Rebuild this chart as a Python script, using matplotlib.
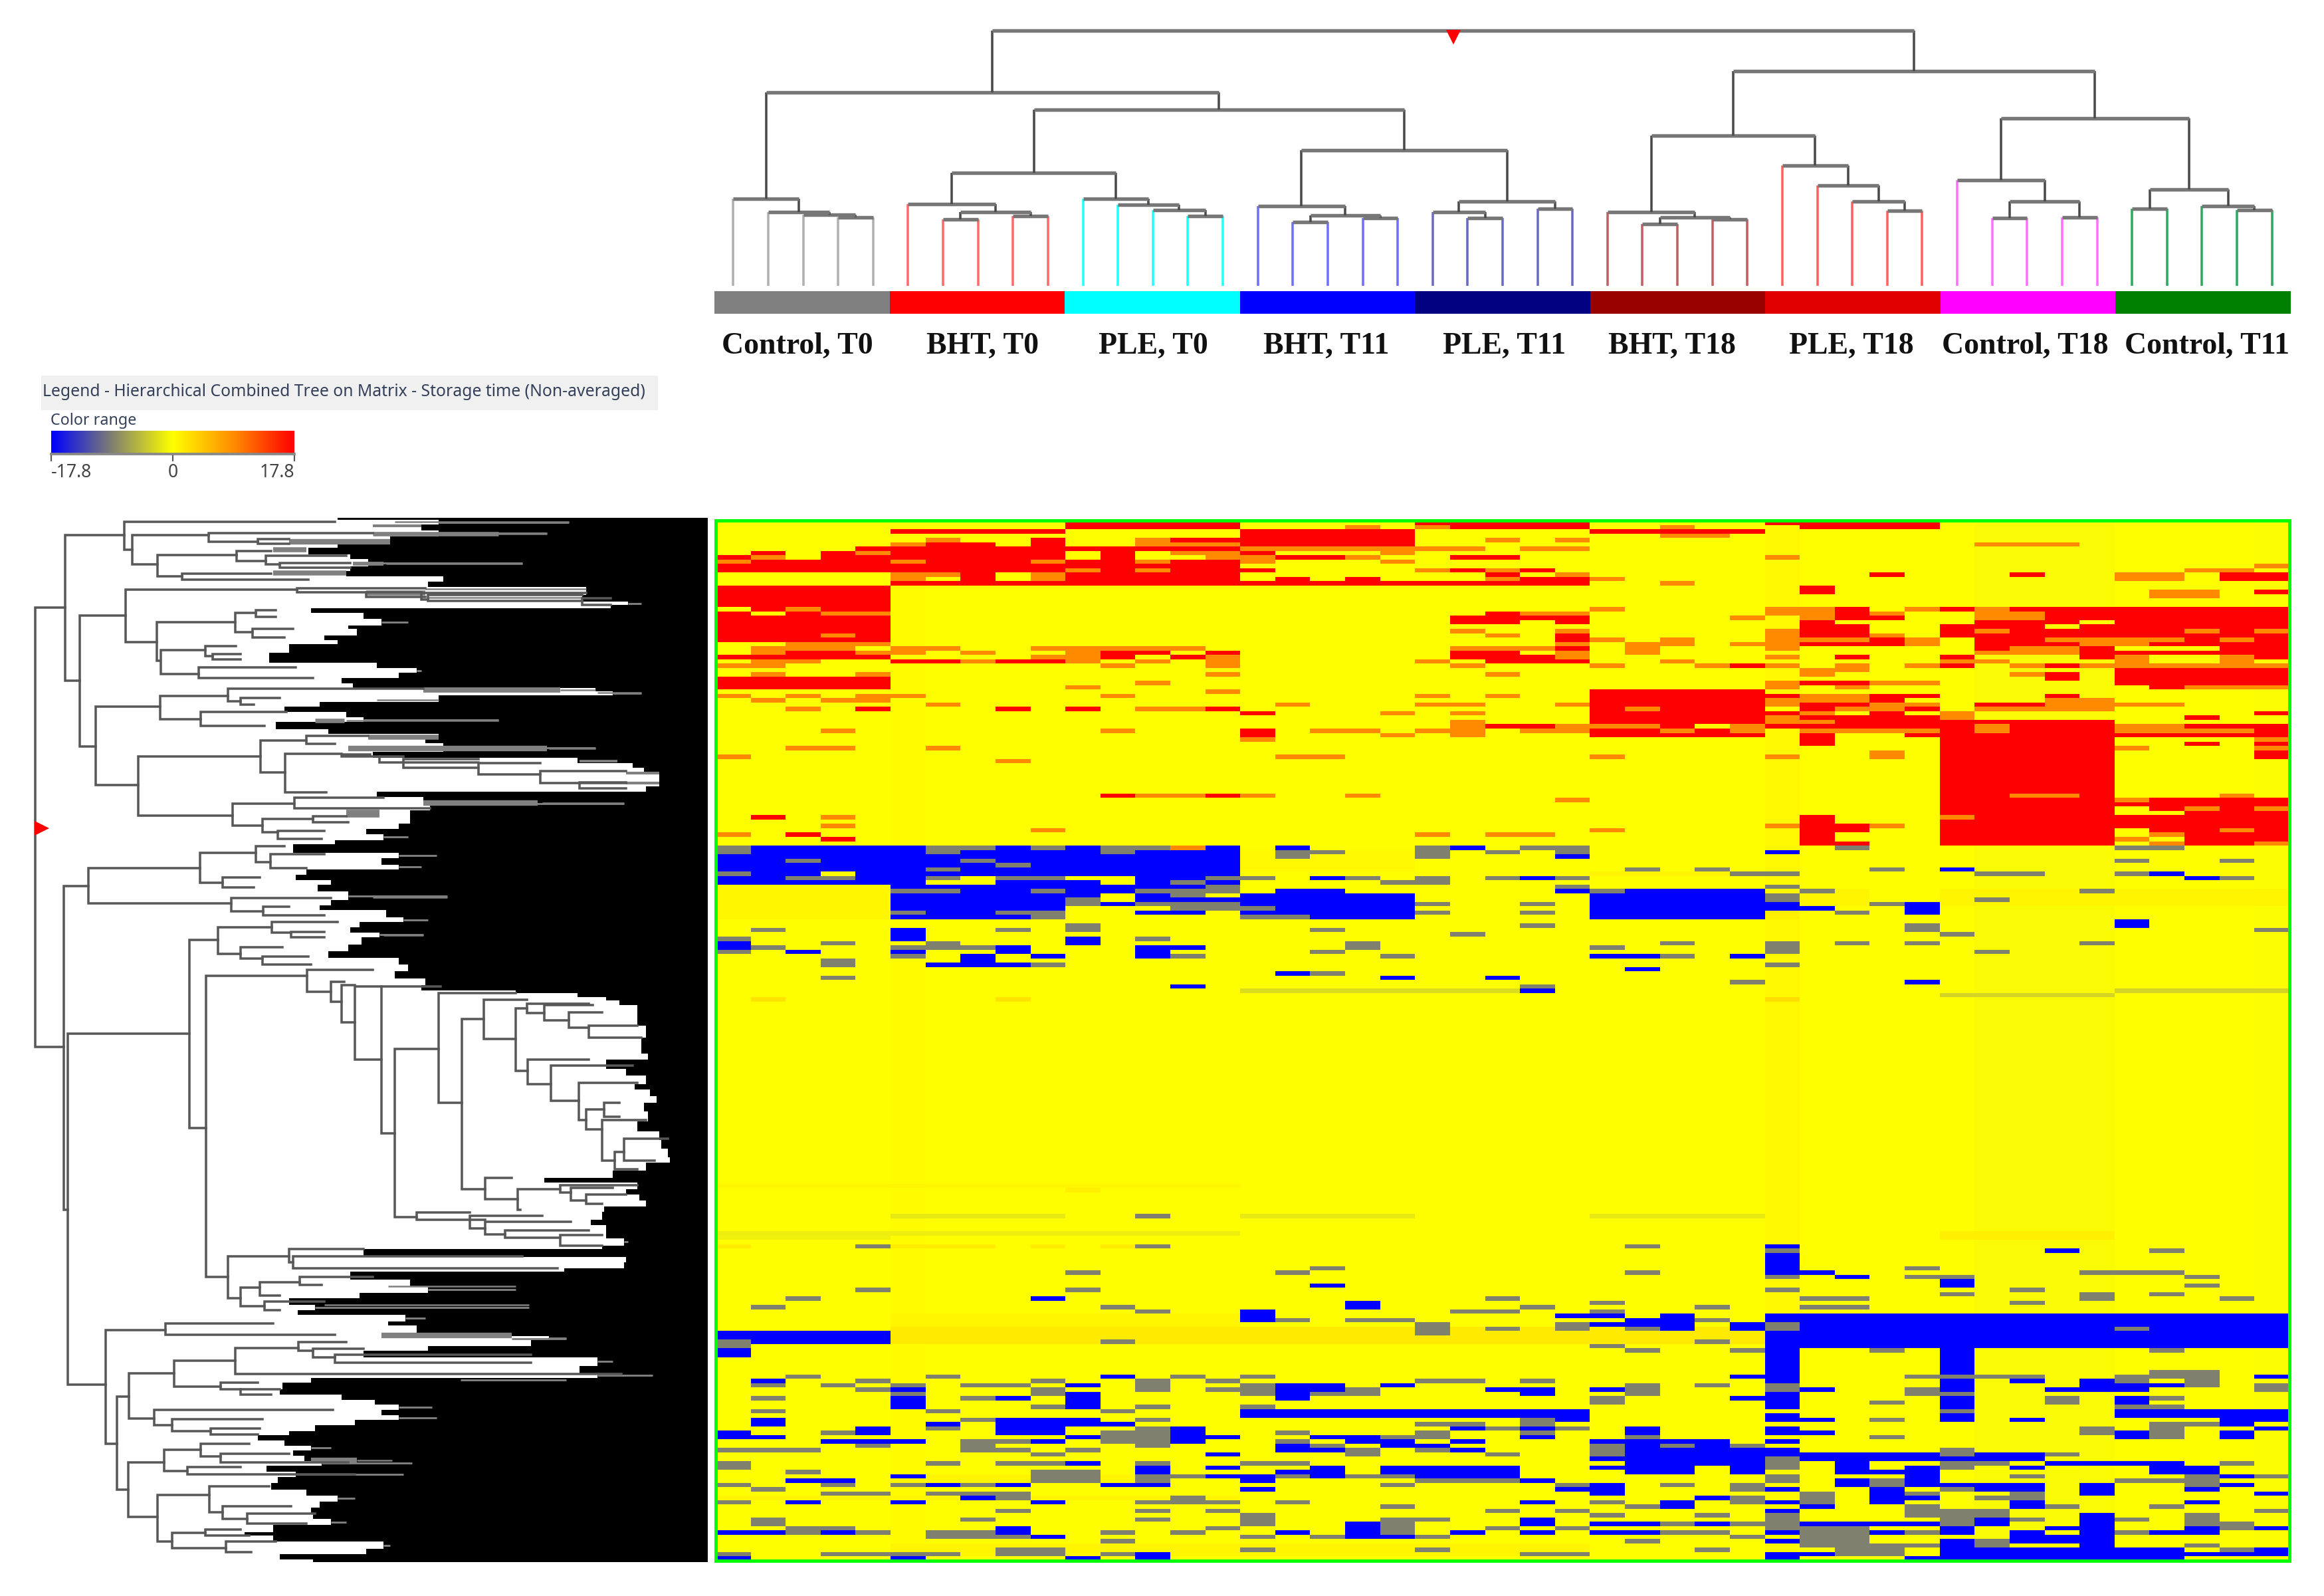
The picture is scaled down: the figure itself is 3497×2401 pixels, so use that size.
import numpy as np
import matplotlib
matplotlib.use("Agg")
import matplotlib.pyplot as plt
from matplotlib.colors import LinearSegmentedColormap

W, H = 3497, 2401
N_ROWS, N_COLS = 240, 45

GROUP_LABELS = ["Control, T0", "BHT, T0", "PLE, T0", "BHT, T11", "PLE, T11",
                "BHT, T18", "PLE, T18", "Control, T18", "Control, T11"]
GROUP_COLORS = ["#808080", "#ff0000", "#00ffff", "#0000ff", "#000080",
                "#990000", "#e00000", "#ff00ff", "#008000"]
LEAF_COLORS = ["#b0b0b0", "#ff6a6a", "#22ffff", "#7070ff", "#6a6ac0",
               "#c06060", "#ff6060", "#ff70ff", "#30a860"]
LABEL_CENTERS = [1200, 1479, 1735, 1996, 2264, 2516, 2786, 3047, 3321]

# column tree, leaves are 0-44, merges are numbered from 45 on
MERGE_LEFT = [3, 2, 1, 0, 6, 8, 49, 5, 13, 12, 11, 10, 16, 18, 57, 15, 21, 20, 23, 62,
              26, 28, 65, 25, 33, 32, 31, 30, 36, 38, 73, 35, 40, 43, 42, 77,
              52, 60, 81, 48, 68, 76, 85, 84]
MERGE_RIGHT = [4, 45, 46, 47, 7, 9, 50, 51, 14, 53, 54, 55, 17, 19, 58, 59, 22, 61, 24, 63,
               27, 29, 66, 67, 34, 69, 70, 71, 37, 39, 74, 75, 41, 44, 78, 79,
               56, 64, 82, 83, 72, 80, 86, 87]
MERGE_HEIGHT = [290, 300, 312, 367, 280, 295, 312, 345, 295, 320, 343, 367, 270, 287, 297, 337,
                287, 312, 325, 357, 260, 280, 290, 312, 317, 357, 422, 507, 287, 290, 357, 445,
                325, 320, 335, 407, 477, 572, 743, 815, 633, 705, 905, 1075]

# row tree brackets: depth of the node, rows of its two children, depth where each child stops
NODE_DEPTH = [35, 103, 237, 255, 428, 540, 312, 492, 558, 590, 368, 135, 240, 628, 785, 910, 925, 1275,
              310, 488, 535, 528, 320, 420, 437, 405, 172, 318, 472, 500, 410, 268, 546, 650, 602,
              730, 815, 870, 1040, 1180, 1270, 482, 622, 550, 665, 585,
              100, 108, 155, 408, 535, 568, 460, 480, 552, 385, 450, 572, 615, 500, 550,
              422, 652, 705, 730, 760, 820, 850, 950, 1002, 1052, 1125, 1150, 1190, 1245, 1290,
              1152, 1205, 1268, 1285, 1325, 1320, 1350, 1370, 1055, 1130, 1225, 1250, 1285,
              900, 1020, 1055, 1100, 1225, 472, 610, 620, 500, 545, 635, 555,
              195, 330, 220, 248, 350, 488, 632, 665, 715, 455, 500, 305, 345, 432,
              245, 327, 410, 455, 380, 312, 430, 460, 515, 345, 420, 468]
NODE_TOP = [283, 68, 30, 68, 62, 80, 128, 115, 130, 150, 183, 305, 230, 225, 238, 240, 245, 255,
            325, 298, 290, 345, 408, 395, 420, 458, 575, 542, 522, 548, 590, 722, 675, 660, 713,
            715, 722, 730, 740, 765, 797, 860, 843, 905, 898, 940,
            1103, 1538, 1050, 1005, 985, 1010, 1078, 1138, 1165, 1263, 1225, 1210, 1238, 1283, 1312,
            1368, 1350, 1385, 1395, 1400, 1400, 1583, 1420, 1495, 1438, 1465, 1450, 1455, 1475, 1515,
            1616, 1633, 1683, 1763, 1743, 1793, 1888, 1848, 1963, 1998, 1986, 1993, 2013,
            2066, 2076, 2093, 2118, 2133, 2196, 2173, 2196, 2288, 2271, 2256, 2328,
            2413, 2393, 2608, 2540, 2503, 2466, 2448, 2468, 2486, 2568, 2588, 2648, 2676, 2703,
            2803, 2766, 2748, 2778, 2816, 2898, 2873, 2933, 2953, 3010, 3000, 3036]
NODE_BOTTOM = [1578, 498, 112, 155, 88, 95, 190, 145, 155, 165, 200, 692, 385, 238, 250, 258, 262, 275,
               440, 355, 310, 370, 478, 425, 435, 490, 805, 612, 558, 568, 632, 895, 768, 685, 828,
               722, 738, 755, 775, 800, 815, 925, 875, 945, 915, 965,
               2058, 2573, 1155, 1093, 1033, 1050, 1108, 1178, 1190, 1816, 1303, 1240, 1255, 1318, 1335,
               2256, 1415, 1445, 1505, 1615, 1833, 2080, 1743, 1998, 1555, 1648, 1478, 1500, 1520, 1550,
               1688, 1736, 1793, 1820, 1783, 1913, 1938, 1913, 2026, 2058, 2008, 2030, 2040,
               2088, 2113, 2130, 2140, 2163, 2318, 2213, 2230, 2343, 2310, 2280, 2353,
               2748, 2426, 2883, 2673, 2580, 2543, 2473, 2493, 2508, 2588, 2603, 2693, 2710, 2720,
               2963, 2828, 2786, 2803, 2838, 3036, 2950, 2970, 2983, 3056, 3018, 3068]
TOP_END = [103, 237, 715, 428, 800, 610, 492, 570, 740, 750, 570, 240, 628, 920, 910, 1285, 1275, 1340,
           488, 535, 580, 620, 420, 490, 500, 625, 318, 472, 915, 590, 605, 546, 650, 790, 730,
           795, 870, 1040, 1180, 1375, 1375, 622, 825, 665, 740, 690,
           155, 385, 408, 535, 600, 690, 545, 705, 610, 450, 572, 720, 690, 595, 655,
           652, 800, 735, 760, 820, 955, 950, 1125, 1052, 1150, 1150, 1290, 1300, 1320, 1400,
           1290, 1390, 1400, 1325, 1360, 1420, 1370, 1470, 1115, 1225, 1400, 1345, 1375,
           1020, 1185, 1250, 1290, 1320, 610, 780, 1140, 545, 635, 800, 690,
           330, 575, 248, 350, 488, 632, 740, 780, 1160, 540, 590, 710, 550, 545,
           327, 410, 520, 610, 500, 430, 565, 615, 670, 420, 500, 580]
BOTTOM_END = [100, 135, 255, 312, 540, 610, 368, 558, 590, 750, 655, 172, 310, 785, 920, 925, 1275, 1340,
              318, 528, 580, 600, 405, 437, 500, 665, 268, 410, 500, 530, 555, 482, 602, 715, 695,
              815, 1040, 1040, 1180, 1375, 1375, 550, 930, 585, 745, 685,
              108, 195, 480, 460, 568, 650, 530, 552, 690, 422, 500, 615, 690, 550, 660,
              472, 705, 730, 760, 820, 850, 900, 1002, 1055, 1125, 1152, 1190, 1245, 1290, 1410,
              1205, 1268, 1285, 1320, 1360, 1350, 1400, 1440, 1130, 1135, 1250, 1285, 1320,
              1055, 1055, 1100, 1225, 1320, 500, 620, 1220, 555, 590, 685, 590,
              220, 715, 245, 305, 455, 1365, 665, 715, 1160, 500, 570, 345, 432, 540,
              312, 380, 455, 745, 760, 345, 460, 515, 650, 468, 520, 525]

# where the black block starts, row by row of the row tree
TIP_Y = [18, 24, 38, 55, 72, 90, 105, 125, 140, 160, 175, 190, 205, 222, 245, 265, 275, 285, 298, 315,
         335, 345, 365, 378, 390, 415, 445, 460, 475, 490, 505, 520, 530, 540, 560, 575, 590, 605, 620, 640,
         655, 670, 682, 708, 725, 740, 755, 770, 810, 825, 840, 855, 865, 880, 920, 935, 950, 968, 980, 1005,
         1022, 1040, 1055, 1070, 1085, 1100, 1120, 1145, 1160, 1175, 1195, 1210, 1225, 1240, 1255, 1275, 1295, 1315, 1335, 1355,
         1375, 1395, 1412, 1420, 1430, 1440, 1455, 1475, 1515, 1550, 1598, 1616, 1643, 1663, 1688, 1703, 1723, 1743, 1768, 1798,
         1826, 1853, 1878, 1903, 1918, 1943, 1963, 1978, 1998, 2013, 2030, 2048, 2063, 2088, 2103, 2123, 2143, 2163, 2173, 2198,
         2213, 2230, 2240, 2263, 2284, 2303, 2318, 2338, 2353, 2368, 2388, 2400, 2418, 2430, 2443, 2460, 2473, 2493, 2518, 2540,
         2553, 2568, 2588, 2603, 2618, 2633, 2648, 2663, 2678, 2693, 2710, 2723, 2738, 2753, 2768, 2783, 2798, 2813, 2830, 2846,
         2863, 2883, 2900, 2918, 2936, 2953, 2970, 2988, 3008, 3018, 3036, 3058, 3073, 3088, 3096]
TIP_X = [720, 1245, 910, 1195, 840, 720, 655, 750, 1140, 750, 740, 960, 925, 1285, 1275, 1410, 1340, 660, 780, 880,
         745, 765, 690, 720, 610, 565, 810, 910, 860, 730, 755, 1305, 1410, 950, 680, 600, 740, 1085, 580, 700,
         950, 920, 1305, 800, 1265, 1390, 1415, 1450, 1420, 810, 915, 1370, 930, 885, 860, 785, 880, 715, 620, 945,
         820, 910, 650, 625, 705, 675, 970, 705, 680, 830, 925, 770, 750, 915, 775, 745, 700, 860, 880, 850,
         920, 910, 1125, 1265, 1330, 1360, 1400, 1400, 1420, 1410, 1425, 1330, 1375, 1420, 1395, 1430, 1445, 1415, 1425, 1400,
         1450, 1455, 1470, 1475, 1420, 1345, 1190, 1400, 1375, 1405, 1420, 1325, 1320, 1295, 1330, 1330, 1380, 1320, 780, 1375,
         1370, 1235, 750, 885, 1125, 770, 610, 1155, 630, 920, 835, 900, 900, 1240, 1160, 925, 780, 1345, 1270, 1435,
         660, 595, 590, 730, 805, 935, 820, 945, 760, 670, 610, 540, 600, 705, 620, 645, 890, 560, 870, 585,
         570, 650, 760, 680, 660, 665, 740, 575, 510, 575, 840, 785, 590, 665, 665]
# grey ends of the long leaves
STRIP_Y = [30, 42, 65, 65, 88, 112, 152, 152, 180, 228, 253, 240, 525, 525, 533, 555, 615, 615, 665, 698, 698,
           735, 770, 800, 858, 858, 890, 1137, 1248, 2283, 2338, 2428, 2438, 2560, 2796, 2796]
STRIP_X0 = [850, 800, 800, 1085, 610, 575, 830, 755, 575, 920, 925, 785, 915, 1225, 1310, 810, 740, 670, 790, 745, 1200,
            1270, 1375, 1375, 915, 1185, 740, 800, 825, 835, 690, 820, 1115, 1000, 765, 660]
STRIP_X1 = [1245, 910, 1085, 1195, 840, 650, 1140, 825, 740, 1285, 1275, 920, 1225, 1305, 1410, 950, 1085, 735, 950, 1195, 1305,
            1355, 1450, 1450, 1175, 1370, 815, 970, 915, 1125, 1155, 1115, 1240, 1240, 845, 765]
STRIP_LW = [0.6, 1.0, 1.6, 0.6, 2.0, 1.8, 0.6, 1.4, 1.8, 0.6, 0.6, 1.8, 1.9, 0.6, 0.6, 0.6, 0.6, 1.6, 1.8, 2.0, 0.6,
            0.9, 1.0, 1.0, 2.0, 0.6, 2.8, 0.6, 0.6, 0.6, 0.6, 2.0, 0.7, 0.7, 0.6, 2.0]

# matrix cells, each entry is (first row, last row, first col, last col)
RED_CELLS = [(8, 8, 0, 0), (10, 11, 0, 0), (7, 7, 1, 1), (9, 11, 1, 1), (9, 11, 2, 2), (7, 11, 3, 3), (6, 6, 4, 4), (8, 11, 4, 4),
             (15, 27, 0, 4), (31, 31, 0, 1), (30, 31, 2, 3), (31, 31, 4, 4), (36, 38, 0, 4),
             (43, 43, 4, 4), (43, 43, 8, 8), (43, 43, 10, 10), (43, 43, 14, 14), (44, 44, 15, 15), (68, 68, 1, 1),
             (72, 72, 2, 2), (73, 73, 3, 3), (75, 75, 3, 3), (63, 63, 11, 11), (63, 63, 14, 14), (48, 49, 15, 15), (47, 47, 22, 23),
             (2, 2, 5, 9), (6, 8, 5, 5), (10, 11, 5, 5), (14, 14, 5, 9), (5, 11, 6, 6), (5, 14, 7, 7), (6, 11, 8, 8), (4, 8, 9, 9), (10, 11, 9, 9),
             (32, 32, 5, 6), (32, 32, 8, 9), (30, 31, 11, 11), (30, 30, 12, 12), (31, 31, 13, 13), (30, 30, 14, 14),
             (0, 1, 10, 14), (6, 6, 10, 10), (9, 14, 10, 10), (6, 14, 11, 11), (6, 6, 12, 12), (10, 10, 12, 12), (12, 14, 12, 12),
             (4, 4, 13, 14), (6, 6, 13, 14), (9, 14, 13, 14),
             (2, 5, 15, 19), (7, 7, 15, 15), (8, 8, 16, 18), (11, 11, 15, 15), (14, 14, 15, 15), (13, 14, 16, 16), (14, 14, 17, 17),
             (13, 14, 18, 18), (14, 14, 19, 19),
             (0, 1, 20, 24), (8, 8, 21, 22), (11, 11, 21, 21), (11, 11, 23, 23), (12, 12, 22, 22), (14, 14, 20, 24), (13, 13, 23, 24),
             (22, 23, 21, 21), (21, 23, 22, 22), (22, 23, 24, 24), (22, 22, 23, 23), (26, 27, 24, 24), (29, 29, 24, 24),
             (30, 31, 21, 22), (31, 32, 22, 23), (32, 32, 24, 24),
             (2, 2, 25, 29), (39, 46, 25, 29), (47, 47, 27, 27), (49, 49, 25, 29), (48, 48, 25, 26), (48, 48, 28, 28), (33, 33, 29, 29),
             (0, 1, 31, 34), (0, 0, 30, 30), (15, 16, 31, 31), (12, 12, 33, 33),
             (40, 40, 30, 30), (44, 44, 30, 30), (47, 47, 30, 30), (23, 26, 31, 31), (28, 28, 31, 31), (37, 37, 31, 31),
             (42, 43, 31, 31), (45, 51, 31, 31), (20, 22, 32, 32), (24, 26, 32, 32), (28, 28, 32, 32), (31, 31, 32, 32), (37, 37, 32, 32),
             (42, 42, 32, 32), (45, 47, 32, 32), (22, 22, 33, 33), (27, 28, 33, 33), (40, 41, 33, 33), (44, 48, 33, 33),
             (40, 40, 34, 34), (43, 43, 34, 34), (45, 47, 34, 34), (49, 49, 34, 34),
             (68, 74, 31, 31), (70, 71, 32, 32), (74, 74, 32, 32),
             (46, 74, 35, 39), (20, 20, 35, 35), (24, 26, 35, 35), (31, 31, 35, 35), (33, 33, 35, 35),
             (23, 24, 36, 36), (26, 29, 36, 36), (42, 42, 36, 36), (20, 20, 37, 37), (23, 28, 37, 37), (42, 42, 37, 37),
             (20, 23, 38, 38), (25, 28, 38, 38), (33, 33, 38, 38), (35, 36, 38, 38), (40, 40, 38, 38),
             (20, 24, 39, 39), (25, 31, 39, 39),
             (20, 31, 40, 44), (34, 37, 40, 44), (38, 38, 41, 41), (47, 49, 40, 44), (45, 45, 42, 42), (44, 44, 44, 44),
             (51, 51, 42, 42), (50, 54, 44, 44),
             (65, 65, 40, 40), (68, 70, 40, 40), (64, 66, 41, 41), (68, 71, 41, 41), (64, 65, 42, 42), (67, 74, 42, 42),
             (64, 74, 43, 43), (64, 65, 44, 44), (67, 73, 44, 44), (12, 13, 43, 44), (16, 16, 44, 44), (12, 12, 37, 37)]

BLUE_CELLS = [(75, 83, 0, 14), (84, 91, 5, 9), (84, 86, 10, 10), (84, 85, 11, 11), (88, 88, 11, 11), (84, 84, 12, 13), (86, 87, 12, 12),
              (90, 90, 12, 13), (87, 87, 13, 14), (86, 91, 15, 19), (85, 91, 16, 17), (85, 91, 25, 29),
              (84, 84, 30, 30), (88, 89, 30, 30), (89, 89, 31, 31), (88, 90, 34, 34), (75, 75, 21, 21), (75, 75, 16, 16), (82, 82, 17, 17),
              (82, 82, 23, 23), (85, 85, 24, 24), (77, 77, 24, 24), (76, 76, 30, 30), (80, 80, 35, 35), (81, 81, 41, 41), (82, 82, 42, 42),
              (94, 96, 5, 5), (97, 97, 0, 0), (96, 97, 10, 10), (98, 99, 8, 8), (98, 99, 12, 12), (98, 98, 13, 13), (92, 93, 40, 40),
              (98, 98, 0, 0), (99, 99, 2, 2), (99, 100, 5, 5), (100, 100, 7, 7), (100, 100, 9, 9), (100, 100, 12, 12), (101, 102, 7, 7),
              (102, 102, 3, 3), (102, 102, 6, 6), (102, 102, 8, 8), (104, 104, 16, 16), (105, 105, 19, 19), (105, 105, 22, 22),
              (107, 107, 13, 13), (108, 108, 23, 23), (100, 100, 25, 26), (100, 100, 29, 29), (103, 103, 26, 26), (106, 106, 34, 34),
              (167, 167, 30, 30), (169, 173, 30, 30), (173, 173, 31, 31), (174, 174, 32, 32), (168, 168, 38, 38), (175, 176, 35, 35),
              (176, 176, 17, 17), (179, 179, 9, 9), (180, 181, 18, 18), (182, 184, 15, 15), (187, 189, 0, 4), (191, 192, 0, 0),
              (197, 197, 11, 11), (198, 198, 1, 1), (200, 200, 5, 5), (202, 202, 5, 5), (199, 199, 10, 10), (201, 201, 10, 10), (202, 204, 10, 10),
              (199, 200, 16, 17), (199, 199, 19, 19), (200, 200, 22, 23), (201, 201, 23, 23), (202, 202, 8, 8), (201, 202, 16, 16),
              (203, 204, 5, 5), (205, 206, 15, 24), (207, 207, 24, 24), (207, 208, 1, 1), (208, 208, 6, 6), (207, 210, 8, 9), (207, 208, 10, 10),
              (208, 208, 11, 11), (209, 210, 4, 4), (209, 210, 13, 13), (209, 209, 21, 21), (209, 211, 23, 23), (210, 211, 0, 0), (211, 211, 1, 1),
              (212, 212, 3, 3), (212, 212, 4, 4), (212, 212, 5, 5), (212, 212, 9, 9), (211, 211, 10, 10), (211, 212, 13, 13), (211, 211, 14, 14),
              (211, 211, 17, 18), (212, 212, 21, 21), (212, 212, 18, 18), (212, 213, 19, 19), (213, 213, 20, 20), (213, 213, 16, 16),
              (215, 215, 14, 14), (214, 214, 16, 17), (214, 214, 21, 21), (217, 217, 10, 10), (218, 219, 12, 12), (218, 218, 14, 14),
              (218, 219, 17, 17), (218, 220, 19, 21), (218, 221, 22, 22), (219, 219, 16, 16), (221, 221, 2, 3), (220, 220, 5, 5),
              (220, 220, 14, 14), (220, 221, 15, 15), (220, 220, 17, 17), (222, 222, 8, 8), (222, 222, 11, 12), (222, 222, 6, 6), (223, 223, 15, 15),
              (225, 225, 7, 7), (226, 226, 2, 2), (226, 226, 5, 5), (226, 226, 9, 9), (226, 226, 23, 23), (233, 233, 0, 3), (233, 233, 8, 8),
              (232, 232, 8, 8), (234, 234, 9, 9), (231, 234, 18, 18), (233, 234, 19, 19), (233, 233, 16, 16), (233, 233, 21, 21), (233, 233, 23, 23),
              (238, 238, 12, 12), (239, 239, 12, 12), (230, 230, 23, 23), (183, 186, 27, 27), (183, 183, 24, 25), (185, 185, 25, 25),
              (184, 185, 26, 26), (184, 184, 28, 28), (185, 186, 29, 29), (183, 199, 30, 30), (200, 204, 30, 30), (183, 190, 31, 44), (190, 190, 40, 40),
              (190, 196, 35, 35), (198, 200, 35, 35), (202, 204, 35, 35), (206, 207, 35, 35), (190, 190, 37, 37), (198, 198, 37, 37),
              (197, 197, 44, 44), (198, 200, 40, 40), (199, 199, 41, 41), (198, 200, 39, 39), (200, 200, 38, 38), (197, 197, 29, 29),
              (200, 200, 25, 25), (200, 200, 31, 31), (202, 202, 29, 29), (202, 203, 40, 40), (205, 206, 40, 44), (207, 208, 43, 43),
              (207, 207, 44, 44), (207, 207, 37, 37), (206, 207, 30, 30), (207, 207, 31, 31), (209, 210, 26, 26), (209, 210, 30, 30),
              (210, 210, 31, 31), (210, 211, 40, 40), (210, 211, 43, 43), (209, 209, 44, 44), (212, 212, 25, 25), (212, 219, 26, 26),
              (212, 212, 27, 27), (214, 219, 27, 27), (212, 217, 28, 28), (214, 219, 29, 29), (212, 212, 30, 30), (214, 215, 30, 30),
              (216, 216, 25, 25), (218, 218, 25, 25), (215, 216, 31, 37), (215, 219, 32, 32), (219, 219, 33, 33), (218, 222, 34, 34),
              (218, 218, 37, 37), (217, 217, 38, 40), (217, 219, 41, 41), (218, 219, 42, 42), (220, 220, 43, 43), (221, 221, 23, 23),
              (223, 223, 24, 24), (222, 224, 25, 25), (223, 223, 30, 30), (221, 222, 32, 32), (223, 223, 33, 33), (222, 222, 35, 35),
              (222, 223, 36, 37), (222, 224, 39, 39), (223, 223, 42, 42), (222, 222, 43, 43), (224, 224, 44, 44), (224, 226, 33, 33),
              (225, 225, 34, 34), (226, 227, 37, 37), (225, 225, 28, 28), (226, 226, 30, 30), (226, 227, 27, 27), (226, 227, 31, 31),
              (226, 226, 42, 42), (228, 228, 30, 30), (229, 231, 36, 36), (229, 231, 39, 39), (231, 231, 34, 34), (231, 231, 23, 23),
              (231, 231, 25, 26), (231, 231, 28, 28), (231, 231, 31, 33), (233, 233, 25, 26), (233, 233, 30, 30), (234, 234, 31, 31),
              (233, 233, 33, 33), (232, 233, 35, 35), (233, 239, 37, 37), (232, 232, 38, 38), (234, 239, 38, 38), (232, 239, 39, 39),
              (233, 233, 41, 41), (232, 233, 42, 42), (232, 232, 44, 44), (235, 235, 30, 30), (235, 237, 35, 35), (237, 239, 35, 41),
              (237, 238, 44, 44), (238, 238, 40, 43), (238, 239, 30, 30), (238, 238, 31, 31), (239, 239, 34, 34), (239, 239, 0, 0),
              (239, 239, 5, 5), (239, 239, 10, 10)]

# holes in the red and blue blocks
YELLOW_CELLS = [(20, 20, 0, 0), (21, 21, 1, 1), (78, 78, 2, 2), (81, 81, 3, 3), (83, 83, 6, 7), (82, 82, 7, 7), (82, 82, 10, 10), (82, 83, 11, 11),
                (29, 29, 41, 42), (31, 31, 41, 42), (29, 29, 40, 40), (23, 23, 39, 39), (47, 47, 28, 28), (44, 44, 32, 32), (44, 44, 34, 34),
                (43, 43, 30, 30), (72, 72, 32, 32), (66, 67, 40, 40), (71, 72, 40, 40), (74, 74, 40, 40), (67, 67, 41, 41), (72, 73, 41, 41),
                (236, 236, 37, 38), (218, 218, 33, 33), (218, 218, 36, 36), (218, 218, 38, 38)]

ORANGE_CELLS = [(9, 9, 0, 0), (8, 8, 1, 1), (7, 7, 4, 4), (20, 20, 2, 2), (21, 21, 3, 4), (26, 26, 3, 3), (33, 33, 0, 0), (29, 30, 1, 1), (32, 33, 1, 1), (35, 35, 1, 1),
                (28, 29, 2, 2), (32, 32, 2, 2), (28, 29, 3, 3), (28, 28, 4, 4), (30, 30, 4, 4), (35, 35, 4, 4), (40, 40, 0, 0), (40, 40, 2, 2), (40, 40, 4, 5),
                (41, 41, 1, 1), (41, 41, 3, 4), (43, 43, 2, 2), (42, 42, 6, 6), (43, 43, 12, 13), (42, 42, 16, 16), (44, 44, 19, 19),
                (48, 48, 3, 3), (48, 48, 11, 11), (48, 48, 17, 18), (49, 49, 19, 19), (48, 48, 20, 20), (48, 49, 21, 21), (46, 46, 21, 21), (50, 50, 15, 15),
                (52, 52, 2, 3), (52, 52, 6, 6), (54, 54, 0, 0), (54, 54, 16, 17), (55, 55, 8, 8), (63, 63, 12, 13), (63, 63, 15, 15), (63, 63, 18, 18),
                (68, 68, 3, 3), (70, 70, 3, 3), (71, 71, 9, 9), (72, 72, 0, 0), (72, 72, 20, 20), (72, 72, 22, 22), (72, 72, 23, 23), (75, 75, 13, 13),
                (5, 5, 5, 5), (9, 9, 5, 5), (12, 13, 5, 5), (4, 4, 6, 6), (12, 12, 6, 6), (9, 9, 9, 9), (12, 13, 9, 9), (29, 30, 5, 5), (29, 29, 6, 6),
                (30, 30, 7, 7), (32, 32, 7, 7), (29, 29, 9, 13), (31, 31, 9, 9), (30, 32, 10, 10), (33, 33, 11, 11), (32, 32, 12, 12), (32, 33, 14, 14), (35, 35, 14, 14), (31, 31, 14, 14),
                (38, 38, 10, 10), (37, 37, 12, 12), (39, 39, 14, 14), (40, 40, 11, 11), (4, 5, 12, 12), (9, 9, 12, 12), (11, 11, 10, 10), (11, 11, 12, 12),
                (5, 5, 13, 14), (7, 7, 13, 14), (8, 8, 14, 14), (6, 6, 15, 19), (8, 9, 15, 15), (8, 8, 18, 18), (9, 9, 19, 19), (7, 7, 19, 19),
                (1, 1, 18, 18), (1, 1, 20, 20), (4, 4, 22, 22), (4, 4, 24, 24), (6, 6, 20, 21), (6, 6, 23, 24), (11, 11, 20, 20), (11, 11, 22, 22),
                (13, 13, 22, 22), (12, 12, 24, 24), (25, 25, 21, 21), (26, 26, 22, 22), (25, 25, 24, 24), (28, 28, 24, 24), (29, 29, 21, 23), (21, 21, 23, 24),
                (32, 32, 20, 20), (33, 33, 21, 21), (35, 35, 22, 22), (30, 30, 24, 24), (31, 31, 24, 24), (40, 40, 20, 20), (40, 40, 22, 22),
                (42, 42, 20, 21), (42, 42, 24, 24), (44, 44, 21, 21), (47, 47, 21, 21), (48, 48, 23, 24), (47, 47, 24, 24), (64, 64, 24, 24),
                (1, 1, 27, 27), (3, 3, 27, 28), (13, 13, 25, 25), (14, 14, 27, 27), (20, 20, 25, 25), (22, 22, 29, 29), (27, 27, 25, 25), (27, 28, 27, 27),
                (28, 28, 26, 26), (28, 28, 29, 29), (29, 30, 26, 26), (32, 32, 27, 27), (33, 33, 25, 25), (33, 33, 28, 28), (54, 54, 25, 25), (71, 71, 25, 25),
                (43, 43, 26, 26), (47, 47, 25, 26), (47, 47, 29, 29), (48, 48, 27, 27), (48, 48, 29, 29),
                (8, 8, 30, 30), (20, 21, 30, 30), (25, 26, 30, 30), (27, 27, 30, 30), (28, 29, 30, 30), (31, 31, 30, 30), (33, 33, 30, 30), (37, 38, 30, 30),
                (41, 42, 30, 30), (45, 46, 30, 30), (20, 22, 31, 31), (27, 27, 31, 31), (34, 35, 31, 31), (40, 41, 31, 32), (44, 44, 31, 31), (46, 46, 31, 31),
                (48, 48, 31, 33), (43, 43, 32, 32), (27, 27, 32, 32), (33, 34, 32, 32), (38, 38, 32, 32), (21, 21, 33, 33), (26, 26, 33, 33), (37, 37, 33, 34),
                (42, 43, 33, 33), (20, 20, 34, 34), (27, 28, 34, 34), (33, 33, 34, 34), (42, 42, 34, 34), (48, 48, 34, 34), (53, 53, 33, 33), (54, 54, 30, 30), (54, 54, 33, 33),
                (70, 70, 30, 30), (70, 70, 33, 33), (44, 45, 35, 35), (5, 5, 36, 38), (47, 48, 36, 36), (63, 63, 37, 38), (68, 68, 35, 35),
                (32, 32, 35, 35), (20, 22, 36, 36), (25, 25, 36, 36), (30, 30, 36, 36), (32, 32, 36, 36), (43, 43, 36, 36),
                (21, 22, 37, 37), (29, 30, 37, 37), (33, 33, 37, 37), (35, 35, 37, 37), (43, 43, 37, 37), (27, 27, 38, 38), (29, 30, 38, 38), (41, 43, 38, 38),
                (27, 28, 39, 39), (33, 33, 39, 39), (41, 43, 39, 39), (27, 28, 40, 40), (31, 31, 40, 40), (32, 32, 40, 40), (27, 27, 41, 41), (32, 32, 43, 43),
                (25, 25, 42, 42), (33, 33, 42, 42), (25, 25, 44, 44), (27, 27, 43, 43), (31, 31, 43, 43), (38, 38, 42, 44), (33, 33, 40, 44),
                (42, 42, 40, 41), (47, 48, 40, 41), (48, 48, 42, 43), (52, 52, 40, 40), (50, 50, 44, 44), (52, 52, 44, 44),
                (64, 64, 40, 40), (73, 73, 40, 40), (72, 72, 41, 41), (74, 74, 41, 41), (66, 66, 42, 42), (63, 63, 43, 43), (71, 71, 43, 43),
                (66, 66, 44, 44), (74, 74, 44, 44), (10, 10, 44, 44), (11, 11, 42, 43), (16, 17, 41, 42), (12, 13, 40, 41)]

GREY_CELLS = [(75, 76, 0, 0), (81, 81, 0, 0), (78, 78, 2, 2), (82, 82, 2, 2), (82, 82, 3, 3), (75, 76, 6, 6), (80, 80, 6, 6), (82, 82, 6, 6), (75, 75, 7, 7), (78, 78, 7, 7),
              (79, 79, 8, 8), (82, 82, 8, 9), (75, 75, 9, 9), (75, 76, 11, 11), (75, 75, 12, 12), (83, 83, 13, 13), (82, 82, 14, 14),
              (85, 85, 5, 6), (85, 85, 9, 9), (90, 90, 5, 5), (90, 90, 8, 9), (91, 91, 9, 9), (87, 88, 10, 10), (85, 85, 12, 13), (86, 86, 13, 13), (88, 88, 12, 12),
              (88, 89, 13, 14), (84, 85, 14, 14), (89, 89, 15, 15), (91, 91, 15, 16), (76, 76, 16, 17), (77, 77, 16, 16), (75, 77, 20, 20), (76, 76, 22, 22), (75, 75, 23, 24),
              (76, 76, 24, 24), (82, 82, 15, 15), (82, 82, 18, 18), (83, 83, 19, 19), (82, 83, 20, 20), (82, 82, 22, 22), (82, 82, 24, 24), (84, 84, 24, 24),
              (88, 88, 23, 23), (90, 90, 23, 23), (88, 88, 20, 20), (90, 90, 20, 20), (93, 93, 23, 23), (93, 94, 10, 10), (94, 94, 1, 1), (94, 94, 8, 8), (94, 94, 17, 17), (95, 95, 21, 21),
              (96, 96, 0, 0), (99, 99, 0, 0), (97, 97, 3, 3), (97, 97, 6, 6), (96, 96, 12, 12), (98, 98, 5, 7), (98, 98, 18, 18), (97, 97, 18, 18), (93, 93, 34, 34), (94, 94, 34, 34),
              (95, 95, 35, 35), (94, 94, 44, 44), (97, 97, 27, 27), (97, 97, 30, 30), (97, 97, 32, 32), (97, 97, 34, 34), (97, 97, 39, 39), (98, 98, 25, 25), (98, 98, 30, 30),
              (78, 78, 40, 40), (78, 78, 43, 43), (75, 75, 32, 32), (75, 75, 40, 41), (80, 80, 26, 26), (80, 80, 28, 28), (80, 80, 33, 33), (81, 81, 29, 30), (81, 81, 36, 37),
              (81, 81, 40, 40), (82, 82, 43, 43), (84, 84, 30, 30), (85, 85, 31, 31), (85, 85, 39, 39), (87, 87, 36, 36), (85, 85, 25, 25), (86, 87, 30, 30), (90, 90, 32, 32),
              (88, 88, 33, 33), (98, 98, 1, 1),
              (99, 99, 17, 17), (100, 100, 19, 19), (100, 100, 13, 13), (100, 100, 5, 5), (101, 102, 3, 3), (102, 102, 9, 9), (104, 104, 17, 17), (105, 105, 3, 3),
              (99, 99, 30, 30), (99, 99, 36, 36), (100, 100, 27, 27), (102, 102, 30, 30), (106, 106, 29, 29), (107, 107, 23, 23),
              (160, 160, 12, 12), (167, 167, 4, 4), (167, 167, 12, 12), (172, 172, 17, 17), (173, 173, 10, 10), (173, 173, 16, 16), (167, 167, 26, 26), (168, 168, 30, 30), (168, 168, 41, 41),
              (173, 173, 26, 26), (172, 172, 34, 34), (174, 174, 34, 35), (174, 174, 30, 30), (173, 173, 39, 39), (173, 173, 40, 41), (174, 174, 42, 42), (176, 176, 42, 42), (177, 177, 37, 37),
              (177, 177, 4, 4), (177, 177, 10, 10), (177, 177, 30, 30), (179, 179, 2, 2), (179, 179, 22, 22), (181, 181, 1, 1), (181, 181, 11, 11), (181, 181, 23, 23), (182, 182, 12, 12),
              (182, 182, 21, 22), (184, 184, 16, 16), (184, 184, 18, 19), (185, 185, 20, 20), (186, 187, 20, 20), (186, 186, 22, 22), (189, 190, 0, 0), (189, 189, 11, 11),
              (178, 178, 35, 35), (178, 179, 39, 39), (178, 178, 41, 41), (179, 179, 43, 43), (179, 179, 31, 32), (180, 180, 25, 25), (180, 180, 37, 37), (181, 181, 28, 28), (181, 181, 31, 32),
              (182, 182, 25, 25), (186, 186, 40, 40), (186, 186, 24, 24), (186, 186, 26, 26), (185, 186, 30, 30), (184, 184, 28, 28), (189, 189, 28, 28), (190, 190, 25, 25), (191, 191, 26, 26), (191, 191, 29, 29), (191, 191, 33, 33), (191, 191, 41, 41),
              (197, 197, 2, 2), (197, 197, 6, 6), (197, 197, 13, 13), (197, 197, 15, 15), (199, 199, 1, 1), (198, 198, 4, 4), (198, 198, 9, 9), (198, 198, 12, 12), (198, 198, 14, 14),
              (199, 199, 3, 3), (199, 199, 5, 5), (201, 201, 5, 5), (199, 199, 7, 8), (200, 200, 4, 4), (200, 201, 9, 9), (199, 200, 12, 12), (200, 200, 14, 14), (199, 199, 15, 15),
              (200, 201, 15, 15), (198, 198, 20, 21), (202, 202, 1, 1), (202, 202, 7, 7), (201, 201, 17, 17), (200, 201, 18, 18), (204, 204, 9, 9), (204, 204, 12, 12), (204, 204, 15, 15),
              (205, 205, 1, 1), (205, 205, 6, 6), (205, 205, 11, 11), (207, 207, 7, 7), (207, 207, 12, 12), (209, 211, 12, 12), (209, 209, 6, 6), (210, 210, 3, 3), (210, 210, 16, 16),
              (208, 208, 20, 21), (210, 211, 20, 20), (209, 209, 22, 22), (207, 208, 23, 23), (210, 210, 23, 23), (212, 213, 7, 7), (212, 212, 8, 8), (210, 212, 11, 11),
              (212, 213, 12, 12), (212, 212, 16, 16), (211, 211, 19, 19), (213, 213, 4, 4), (213, 213, 17, 17), (214, 214, 0, 2), (214, 214, 7, 8), (215, 215, 9, 9), (214, 214, 10, 10),
              (214, 215, 18, 18), (214, 214, 20, 20), (215, 215, 22, 22), (217, 217, 6, 6), (217, 218, 0, 0), (217, 217, 8, 9), (217, 217, 12, 12), (217, 217, 15, 16),
              (219, 219, 2, 2), (219, 221, 9, 10), (220, 221, 12, 12), (220, 220, 13, 13), (220, 220, 16, 16), (220, 220, 18, 19), (221, 221, 20, 22), (222, 222, 3, 3), (222, 222, 7, 7),
              (222, 222, 0, 0), (223, 223, 1, 1), (222, 222, 5, 5), (222, 222, 19, 19), (224, 224, 3, 4), (224, 224, 8, 8), (224, 224, 6, 7), (225, 225, 8, 8),
              (226, 226, 0, 0), (226, 226, 12, 12), (225, 226, 13, 13), (226, 226, 14, 14), (226, 226, 16, 16), (227, 227, 19, 19), (228, 228, 22, 22), (228, 228, 8, 8), (228, 228, 12, 12),
              (228, 228, 14, 14), (229, 229, 15, 15), (230, 230, 7, 7), (230, 231, 1, 1), (230, 230, 12, 12), (230, 231, 15, 15), (230, 233, 19, 19), (230, 230, 20, 20),
              (232, 233, 2, 2), (232, 232, 3, 3), (233, 233, 4, 4), (233, 234, 6, 6), (233, 233, 7, 7), (234, 234, 7, 7), (234, 234, 8, 8), (233, 233, 11, 11), (235, 235, 11, 11),
              (233, 233, 13, 13), (232, 232, 14, 14), (234, 234, 15, 15), (234, 234, 17, 17), (234, 234, 20, 20), (232, 232, 22, 22), (238, 238, 0, 0), (238, 238, 3, 6), (237, 238, 8, 9),
              (238, 238, 11, 11), (237, 237, 15, 15), (237, 237, 20, 20), (238, 238, 23, 24),
              (185, 186, 24, 24), (199, 200, 30, 30), (197, 197, 35, 35), (201, 201, 35, 35), (205, 205, 35, 35), (197, 197, 37, 37), (197, 197, 36, 36), (196, 197, 41, 42), (197, 198, 40, 40),
              (197, 197, 34, 34), (200, 201, 34, 34), (198, 199, 42, 42), (199, 200, 44, 44), (198, 198, 23, 23), (199, 199, 28, 28), (199, 200, 26, 26), (201, 201, 26, 26),
              (202, 202, 25, 25), (203, 203, 25, 25), (203, 203, 33, 33), (202, 203, 38, 38), (202, 202, 41, 41), (204, 204, 40, 41), (207, 207, 33, 33), (209, 209, 24, 24), (211, 211, 26, 26),
              (211, 211, 33, 33), (209, 210, 39, 39), (208, 211, 41, 41), (208, 208, 42, 42), (213, 215, 25, 25), (213, 213, 27, 27), (213, 213, 29, 29), (216, 218, 30, 30),
              (214, 215, 35, 35), (215, 215, 38, 38), (217, 218, 35, 35), (217, 217, 36, 36), (217, 217, 43, 43), (220, 220, 37, 37), (220, 220, 44, 44), (221, 221, 40, 41),
              (222, 222, 24, 24), (222, 222, 27, 27), (222, 223, 29, 29), (220, 221, 30, 30), (224, 224, 31, 31), (221, 222, 33, 33), (224, 224, 34, 34), (223, 223, 35, 35), (220, 222, 42, 42),
              (224, 225, 37, 37), (225, 225, 36, 36), (225, 226, 29, 29), (225, 226, 31, 31), (226, 226, 25, 25), (227, 227, 34, 34), (227, 227, 26, 26), (227, 227, 38, 38), (227, 227, 41, 41),
              (228, 229, 34, 36), (229, 229, 25, 25), (229, 229, 28, 28), (228, 228, 24, 24), (228, 228, 44, 44), (229, 230, 30, 30), (229, 230, 42, 42), (230, 231, 35, 35),
              (230, 230, 37, 37), (230, 230, 40, 40), (231, 231, 27, 27), (231, 231, 29, 29), (231, 232, 30, 30), (231, 232, 43, 43), (231, 231, 42, 42), (232, 234, 31, 32), (232, 232, 30, 30),
              (234, 234, 29, 29), (232, 232, 24, 24), (235, 235, 26, 26), (233, 233, 27, 28), (233, 233, 34, 34), (233, 233, 40, 40), (235, 236, 31, 32), (236, 237, 33, 33), (236, 236, 34, 34),
              (235, 236, 36, 36), (236, 236, 42, 42), (237, 237, 43, 43), (237, 237, 28, 28), (237, 238, 32, 33)]

# faint shading of the yellow background
COLUMN_TINT = [0.0, 0.0, -0.1, 0.0, 0.1, 0.2, 0.0, 0.0, 0.1, 0.0, 0.1, 0.0, 0.0, 0.1, 0.1,
               0.0, 0.0, 0.0, -0.1, 0.0, 0.0, 0.0, 0.0, 0.0, -0.1, 0.1, 0.0, 0.0, 0.0, 0.0,
               0.5, 0.0, 0.0, 0.0, 0.0, 0.0, -0.3, -0.35, -0.4, -0.35, 0.0, 0.0, 0.0, 0.0, -0.2]
BAND_CELLS = [(186, 189, 5, 24), (186, 189, 25, 29), (187, 188, 35, 39), (183, 185, 5, 14), (108, 108, 15, 23), (108, 108, 40, 44),
              (109, 109, 35, 39), (160, 160, 5, 9), (160, 160, 15, 19), (160, 160, 25, 29), (164, 164, 0, 14), (165, 165, 0, 4),
              (153, 153, 0, 14), (154, 154, 10, 10), (167, 167, 0, 0), (167, 167, 5, 7), (167, 167, 9, 9), (167, 167, 11, 11),
              (164, 165, 35, 39), (110, 110, 1, 1), (110, 110, 8, 8), (110, 110, 30, 30), (225, 225, 0, 14), (220, 221, 5, 12),
              (84, 91, 0, 4), (76, 80, 15, 19), (81, 81, 25, 29), (90, 91, 30, 30), (85, 88, 31, 32), (85, 88, 35, 44), (236, 238, 5, 24)]
BAND_VALUE = [1.6, 1.6, 0.8, 0.6, -2.5, -3.0, -3.0, -1.6, -1.6, -1.6, -1.2, -1.0, 0.8, 1.2, 1.5, 1.5, 1.5, 1.5,
              1.2, 2.0, 2.0, 2.5, 0.8, 0.8, 0.6, 0.5, 0.7, 1.2, 0.8, 0.7, 0.7]

RED_VALUE, ORANGE_VALUE, GREY_VALUE, BLUE_VALUE = 17.8, 8.9, -8.9, -17.8


def build_matrix():
    m = np.tile(np.array(COLUMN_TINT), (N_ROWS, 1))
    for (r0, r1, c0, c1), v in zip(BAND_CELLS, BAND_VALUE):
        m[r0:r1 + 1, c0:c1 + 1] = v
    for cells, v in [(RED_CELLS, RED_VALUE), (BLUE_CELLS, BLUE_VALUE), (YELLOW_CELLS, 0.0),
                     (ORANGE_CELLS, ORANGE_VALUE), (GREY_CELLS, GREY_VALUE)]:
        for r0, r1, c0, c1 in cells:
            m[r0:r1 + 1, c0:c1 + 1] = v
    return m


def px_axes(fig, x, y, w, h):
    return fig.add_axes([x / W, 1 - (y + h) / H, w / W, h / H])


def draw_column_tree(ax):
    pos = [i + 0.5 for i in range(N_COLS)]
    hgt = [0.0] * N_COLS
    for a, b, m in zip(MERGE_LEFT, MERGE_RIGHT, MERGE_HEIGHT):
        for c in (a, b):
            if c < N_COLS:
                col = LEAF_COLORS[c // 5]
            else:
                col = "#4a4a4a"
            ax.plot([pos[c], pos[c]], [hgt[c], m], color=col, lw=0.85, solid_capstyle="butt")
        ax.plot([pos[a], pos[b]], [m, m], color="#777777", lw=1.3, solid_capstyle="butt")
        pos.append((pos[a] + pos[b]) / 2)
        hgt.append(m)
    ax.plot(pos[-1], MERGE_HEIGHT[-1] - 28, marker="v", ms=5.5, color="#ff0000", mew=0)
    ax.set_xlim(0, N_COLS)
    ax.set_ylim(0, 1205)
    ax.axis("off")


def draw_row_tree(ax):
    # a leaf sticking out alone is a thin grey line in the black, wider lanes stay white
    tips = np.array(TIP_X, dtype=float)
    block = tips.copy()
    for i in range(1, len(tips) - 1):
        block[i] = min(tips[i], max(tips[i - 1], tips[i + 1]) + 40)
    ax.fill_betweenx(TIP_Y, block, 1560, step="post", color="black", lw=0)
    for i in range(len(tips) - 1):
        if tips[i] > block[i]:
            y = (TIP_Y[i] + TIP_Y[i + 1]) / 2
            ax.plot([block[i], tips[i]], [y, y], color="#808080", lw=0.7, solid_capstyle="butt")
    for y, x0, x1, lw in zip(STRIP_Y, STRIP_X0, STRIP_X1, STRIP_LW):
        ax.plot([x0, x1], [y, y], color="#808080", lw=lw, solid_capstyle="butt")
    for d, t, b, te, be in zip(NODE_DEPTH, NODE_TOP, NODE_BOTTOM, TOP_END, BOTTOM_END):
        ax.plot([te, d, d, be], [t, t, b, b], color="#585858", lw=0.85, solid_joinstyle="miter")
    ax.plot(NODE_DEPTH[0] + 15, 933, marker=">", ms=5.5, color="#ff0000", mew=0)
    ax.set_xlim(0, 1568)
    ax.set_ylim(3136, 0)
    ax.axis("off")


def main():
    cmap = LinearSegmentedColormap.from_list(
        "storage", ["#0000ff", "#808070", "#ffff00", "#ff8c00", "#ff0000"])
    fig = plt.figure(figsize=(W / 300, H / 300), dpi=300, facecolor="white")

    # column tree
    ax_top = px_axes(fig, 1077, 0, 2368, 430)
    draw_column_tree(ax_top)

    # colour bar under the tree
    ax_bar = px_axes(fig, 1075, 438, 2372, 34)
    ax_bar.bar(range(len(GROUP_COLORS)), [1] * len(GROUP_COLORS), width=1, align="edge", color=GROUP_COLORS)
    ax_bar.set_xlim(0, len(GROUP_COLORS))
    ax_bar.set_ylim(0, 1)
    ax_bar.axis("off")

    for name, x in zip(GROUP_LABELS, LABEL_CENTERS):
        fig.text(x / W, 1 - 521 / H, name, ha="center", va="center", fontsize=11,
                 family="Liberation Serif", fontweight="bold", color="#111111")

    # legend
    fig.patches.append(plt.Rectangle((62 / W, 1 - 617 / H), 928 / W, 52 / H, transform=fig.transFigure,
                                     facecolor="#f0f0f0", edgecolor="none"))
    fig.text(64 / W, 1 - 590 / H, "Legend - Hierarchical Combined Tree on Matrix - Storage time (Non-averaged)",
             fontsize=5.95, family="Noto Sans", color="#35405a", va="center")
    fig.text(76 / W, 1 - 633 / H, "Color range", fontsize=5.6, family="Noto Sans", color="#35405a", va="center")
    ax_leg = px_axes(fig, 77, 648, 366, 35)
    ax_leg.imshow(np.linspace(-17.8, 17.8, 256)[None, :], aspect="auto", cmap=cmap, vmin=-17.8, vmax=17.8,
                  extent=[-17.8, 17.8, 0, 1])
    ax_leg.set_yticks([])
    ax_leg.set_xticks([-17.8, 0, 17.8])
    ax_leg.set_xticklabels(["-17.8", "0", "17.8"], fontsize=6.4, family="Noto Sans", color="#444444")
    ax_leg.get_xticklabels()[0].set_ha("left")
    ax_leg.get_xticklabels()[2].set_ha("right")
    ax_leg.tick_params(axis="x", length=2.6, width=0.5, color="#555555", pad=0.8)
    for side in ["top", "left", "right"]:
        ax_leg.spines[side].set_visible(False)
    ax_leg.spines["bottom"].set_color("#888888")
    ax_leg.spines["bottom"].set_linewidth(0.9)

    # row tree
    ax_tree = px_axes(fig, 30, 770, 1040, 1600)
    draw_row_tree(ax_tree)

    # matrix
    ax_hm = px_axes(fig, 1077, 783, 2368, 1565)
    ax_hm.imshow(build_matrix(), aspect="auto", cmap=cmap, vmin=-17.8, vmax=17.8, interpolation="nearest")
    ax_hm.set_xticks([])
    ax_hm.set_yticks([])
    for s in ax_hm.spines.values():
        s.set_color("#00ff00")
        s.set_linewidth(1.2)

    fig.savefig("out.png", dpi=300)


if __name__ == "__main__":
    main()
